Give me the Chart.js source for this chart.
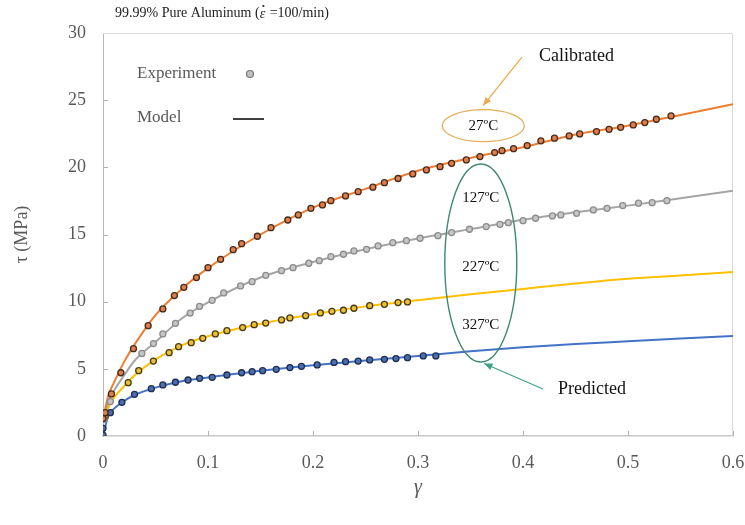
<!DOCTYPE html>
<html lang="en">

<head>
    <meta charset="UTF-8">
    <script src="https://cdn.jsdelivr.net/npm/chart.js"></script>
    <style>
        body { margin: 0; background: #fff; }
        #wrap { width: 745px; height: 525px; }
    </style>
</head>

<body>
    <div id="wrap"><canvas id="shearChart" width="745" height="525"></canvas></div>

    <script>
        // experiment points
        const exp27X = [0, 0.002, 0.008, 0.017, 0.029, 0.043, 0.057, 0.068, 0.077, 0.089, 0.100, 0.112, 0.124, 0.132, 0.147, 0.160, 0.176, 0.186, 0.198, 0.209, 0.217, 0.231, 0.243, 0.257, 0.268, 0.281, 0.295, 0.308, 0.321, 0.332, 0.346, 0.359, 0.373, 0.380, 0.391, 0.404, 0.417, 0.430, 0.444, 0.454, 0.470, 0.482, 0.493, 0.505, 0.516, 0.527, 0.541];
        const exp27Y = [1.3, 1.74, 3.13, 4.71, 6.50, 8.21, 9.46, 10.45, 11.07, 11.79, 12.53, 13.15, 13.87, 14.32, 14.87, 15.51, 16.08, 16.46, 16.95, 17.2, 17.52, 17.87, 18.19, 18.52, 18.86, 19.17, 19.51, 19.81, 20.05, 20.3, 20.55, 20.8, 21.1, 21.24, 21.39, 21.62, 21.97, 22.17, 22.34, 22.49, 22.66, 22.83, 22.98, 23.16, 23.33, 23.58, 23.83];

        const exp127X = [0.001, 0.007, 0.037, 0.048, 0.057, 0.069, 0.083, 0.092, 0.104, 0.115, 0.131, 0.142, 0.155, 0.170, 0.181, 0.196, 0.206, 0.217, 0.229, 0.239, 0.251, 0.262, 0.276, 0.289, 0.302, 0.319, 0.332, 0.349, 0.365, 0.378, 0.386, 0.400, 0.412, 0.428, 0.436, 0.451, 0.467, 0.480, 0.495, 0.510, 0.523, 0.537];
        const exp127Y = [1.24, 2.56, 6.15, 6.88, 7.6, 8.39, 9.15, 9.65, 10.1, 10.65, 11.17, 11.49, 11.96, 12.31, 12.53, 12.86, 13.05, 13.35, 13.53, 13.78, 13.9, 14.15, 14.39, 14.54, 14.72, 14.91, 15.14, 15.39, 15.59, 15.76, 15.88, 16.03, 16.21, 16.38, 16.46, 16.58, 16.83, 16.95, 17.15, 17.33, 17.37, 17.52];

        const exp227X = [0.002, 0.024, 0.034, 0.048, 0.063, 0.072, 0.084, 0.095, 0.107, 0.118, 0.133, 0.144, 0.155, 0.170, 0.178, 0.193, 0.207, 0.218, 0.229, 0.239, 0.254, 0.268, 0.281, 0.290];
        const exp227Y = [1.44, 3.97, 4.86, 5.58, 6.2, 6.65, 6.95, 7.27, 7.6, 7.84, 8.07, 8.29, 8.41, 8.64, 8.79, 8.96, 9.16, 9.28, 9.36, 9.51, 9.7, 9.8, 9.93, 9.98];

        const exp327X = [0, 0, 0.007, 0.018, 0.030, 0.046, 0.057, 0.069, 0.081, 0.092, 0.104, 0.118, 0.132, 0.142, 0.152, 0.165, 0.178, 0.189, 0.204, 0.220, 0.231, 0.243, 0.254, 0.268, 0.279, 0.290, 0.305, 0.317];
        const exp327Y = [0.07, 0.57, 1.74, 2.51, 3.1, 3.52, 3.8, 4.0, 4.17, 4.29, 4.37, 4.54, 4.71, 4.79, 4.86, 4.96, 5.09, 5.19, 5.29, 5.48, 5.53, 5.58, 5.66, 5.71, 5.76, 5.83, 5.96, 5.96];

        // model curves, sampled at these strains
        const modelX = [0, 0.005, 0.01, 0.02, 0.03, 0.05, 0.075, 0.1, 0.15, 0.2, 0.25, 0.3, 0.35, 0.4, 0.45, 0.5, 0.55, 0.6];
        const model27 = [1.2, 3.0, 3.9, 5.5, 6.8, 9.0, 10.95, 12.5, 15.0, 17.0, 18.4, 19.75, 20.7, 21.5, 22.45, 23.1, 23.9, 24.7];
        const model127 = [1.2, 2.5, 3.3, 4.5, 5.6, 7.0, 8.75, 9.95, 11.8, 12.95, 13.9, 14.7, 15.4, 16.1, 16.65, 17.15, 17.7, 18.25];
        const model227 = [1.2, 2.1, 2.8, 3.7, 4.5, 5.7, 6.75, 7.42, 8.35, 9.06, 9.65, 10.1, 10.55, 10.95, 11.35, 11.7, 11.95, 12.2];
        const model327 = [0, 1.5, 2.0, 2.6, 3.05, 3.6, 4.08, 4.35, 4.85, 5.27, 5.62, 5.95, 6.3, 6.6, 6.85, 7.05, 7.25, 7.45];

        const xTicks = [0, 0.1, 0.2, 0.3, 0.4, 0.5, 0.6];
        const yTicks = [0, 5, 10, 15, 20, 25, 30];

        const serif = '"Liberation Serif", "DejaVu Serif", serif';
        const tickGrey = '#595959';

        function pts(xs, ys) {
            return xs.map((x, i) => ({ x: x, y: ys[i] }));
        }

        function expSet(xs, ys, fill, edge) {
            return {
                data: pts(xs, ys),
                showLine: false,
                pointRadius: 3,
                pointBorderWidth: 1.3,
                pointBackgroundColor: fill,
                pointBorderColor: edge,
            };
        }

        function modelSet(ys, color) {
            return {
                data: pts(modelX, ys),
                showLine: true,
                borderColor: color,
                borderWidth: 2,
                pointRadius: 0,
                cubicInterpolationMode: 'monotone',
            };
        }

        function ellipse(ctx, cx, cy, rx, ry) {
            ctx.beginPath();
            ctx.ellipse(cx, cy, rx, ry, 0, 0, Math.PI * 2);
            ctx.stroke();
        }

        function arrow(ctx, x1, y1, x2, y2, color) {
            ctx.save();
            ctx.strokeStyle = color;
            ctx.fillStyle = color;
            ctx.lineWidth = 1.2;
            ctx.beginPath();
            ctx.moveTo(x1, y1);
            ctx.lineTo(x2, y2);
            ctx.stroke();
            const a = Math.atan2(y2 - y1, x2 - x1);
            ctx.beginPath();
            ctx.moveTo(x2, y2);
            ctx.lineTo(x2 - 9 * Math.cos(a - 0.4), y2 - 9 * Math.sin(a - 0.4));
            ctx.lineTo(x2 - 9 * Math.cos(a + 0.4), y2 - 9 * Math.sin(a + 0.4));
            ctx.closePath();
            ctx.fill();
            ctx.restore();
        }

        // frame, inner tick marks, legend and the labels around the curves
        const decorations = {
            id: 'decorations',
            beforeDatasetsDraw(chart) {
                const { ctx, chartArea: a, scales } = chart;
                ctx.save();
                ctx.strokeStyle = '#d9d9d9';
                ctx.lineWidth = 1;
                ctx.beginPath();
                ctx.moveTo(a.left, a.top + 0.5);
                ctx.lineTo(a.right - 0.5, a.top + 0.5);
                ctx.lineTo(a.right - 0.5, a.bottom);
                ctx.stroke();
                ctx.strokeStyle = '#b0b0b0';
                ctx.beginPath();
                xTicks.slice(1).forEach(v => {
                    const px = Math.round(scales.x.getPixelForValue(v)) + 0.5;
                    ctx.moveTo(px, a.bottom);
                    ctx.lineTo(px, a.bottom - 5);
                });
                yTicks.slice(1, -1).forEach(v => {
                    const py = Math.round(scales.y.getPixelForValue(v)) + 0.5;
                    ctx.moveTo(a.left, py);
                    ctx.lineTo(a.left + 5, py);
                });
                ctx.stroke();
                ctx.restore();
            },
            afterDatasetsDraw(chart) {
                const { ctx, chartArea: a, scales } = chart;
                const X = v => scales.x.getPixelForValue(v);
                const Y = v => scales.y.getPixelForValue(v);
                ctx.save();

                // heading, epsilon-dot drawn by hand
                ctx.fillStyle = '#222';
                ctx.textBaseline = 'middle';
                ctx.textAlign = 'left';
                let hx = a.left + 12;
                const head1 = '99.99% Pure Aluminum (';
                ctx.font = '14px ' + serif;
                ctx.fillText(head1, hx, 13);
                hx += ctx.measureText(head1).width;
                ctx.font = 'italic 14px ' + serif;
                ctx.fillText('\u03B5', hx, 14);
                const ew = ctx.measureText('\u03B5').width;
                ctx.beginPath();
                ctx.arc(hx + ew / 2 + 1, 6, 1.1, 0, Math.PI * 2);
                ctx.fill();
                hx += ew;
                ctx.font = '14px ' + serif;
                ctx.fillText(' =100/min)', hx + 1, 13);

                // legend
                ctx.fillStyle = tickGrey;
                ctx.font = '17px ' + serif;
                ctx.fillText('Experiment', a.left + 34, a.top + 41);
                ctx.fillText('Model', a.left + 34, a.top + 85);
                ctx.beginPath();
                ctx.arc(a.left + 147, a.top + 41, 3.5, 0, Math.PI * 2);
                ctx.fillStyle = '#c0c0c0';
                ctx.fill();
                ctx.strokeStyle = '#777';
                ctx.lineWidth = 1.2;
                ctx.stroke();
                ctx.strokeStyle = '#404040';
                ctx.lineWidth = 2;
                ctx.beginPath();
                ctx.moveTo(a.left + 130, a.top + 86);
                ctx.lineTo(a.left + 161, a.top + 86);
                ctx.stroke();

                // calibrated
                ctx.fillStyle = '#111';
                ctx.textAlign = 'center';
                ctx.font = '18px ' + serif;
                ctx.fillText('Calibrated', X(0.451), Y(28.3));
                arrow(ctx, X(0.399), Y(28.2), X(0.362), Y(24.6), '#f0a844');
                ctx.strokeStyle = '#e7ae55';
                ctx.lineWidth = 1.3;
                ellipse(ctx, X(0.3622), Y(23.1), 41, 16);
                ctx.font = '15px ' + serif;
                ctx.fillText('27\u00BAC', X(0.3622), Y(23.1));

                // predicted
                ctx.strokeStyle = '#3f8a6c';
                ctx.lineWidth = 1.4;
                ellipse(ctx, X(0.3598), Y(12.88), 36, 99);
                ctx.fillText('127\u00BAC', X(0.3598), Y(17.7));
                ctx.fillText('227\u00BAC', X(0.3598), Y(12.6));
                ctx.fillText('327\u00BAC', X(0.3598), Y(8.26));
                arrow(ctx, X(0.419), Y(3.5), X(0.363), Y(5.4), '#3fa383');
                ctx.font = '18px ' + serif;
                ctx.fillText('Predicted', X(0.4657), Y(3.48));

                ctx.restore();
            }
        };

        new Chart(document.getElementById('shearChart'), {
            type: 'scatter',
            data: {
                datasets: [
                    expSet(exp27X, exp27Y, '#dc7f4c', '#4a2a18'),
                    expSet(exp127X, exp127Y, '#c6c6c6', '#8c8c8c'),
                    expSet(exp227X, exp227Y, '#e8c234', '#4a3a0e'),
                    expSet(exp327X, exp327Y, '#4b6fad', '#1e2d52'),
                    modelSet(model27, '#ed7d31'),
                    modelSet(model127, '#a5a5a5'),
                    modelSet(model227, '#ffc000'),
                    modelSet(model327, '#4472c4'),
                ]
            },
            options: {
                responsive: false,
                animation: false,
                layout: { padding: { top: 33, right: 12, left: 0, bottom: 0 } },
                plugins: {
                    legend: { display: false },
                    tooltip: { enabled: false }
                },
                scales: {
                    x: {
                        type: 'linear',
                        min: 0,
                        max: 0.6,
                        afterFit: s => { s.height = 89; s.paddingLeft = 0; s.paddingRight = 0; },
                        afterBuildTicks: s => { s.ticks = xTicks.map(v => ({ value: v })); },
                        grid: { display: false },
                        border: { display: true, color: '#c8c8c8', width: 1.5 },
                        ticks: {
                            padding: 8,
                            color: tickGrey,
                            font: { family: serif, size: 18 },
                            callback: v => String(v)
                        },
                        title: {
                            display: true,
                            text: '\u03B3',
                            color: tickGrey,
                            font: { family: serif, size: 20, style: 'italic' },
                            padding: { top: 4, bottom: 25 }
                        }
                    },
                    y: {
                        min: 0,
                        max: 30,
                        afterFit: s => { s.width = 103; s.paddingTop = 0; s.paddingBottom = 0; },
                        afterBuildTicks: s => { s.ticks = yTicks.map(v => ({ value: v })); },
                        grid: { display: false },
                        border: { display: true, color: '#b8b8b8', width: 1 },
                        ticks: {
                            padding: 9,
                            color: tickGrey,
                            font: { family: serif, size: 18 },
                        },
                        title: {
                            display: true,
                            text: '\u03C4 (MPa)',
                            color: tickGrey,
                            font: { family: serif, size: 18 },
                            padding: { top: 11, bottom: 0 }
                        }
                    }
                }
            },
            plugins: [decorations]
        });
    </script>

</body>

</html>
